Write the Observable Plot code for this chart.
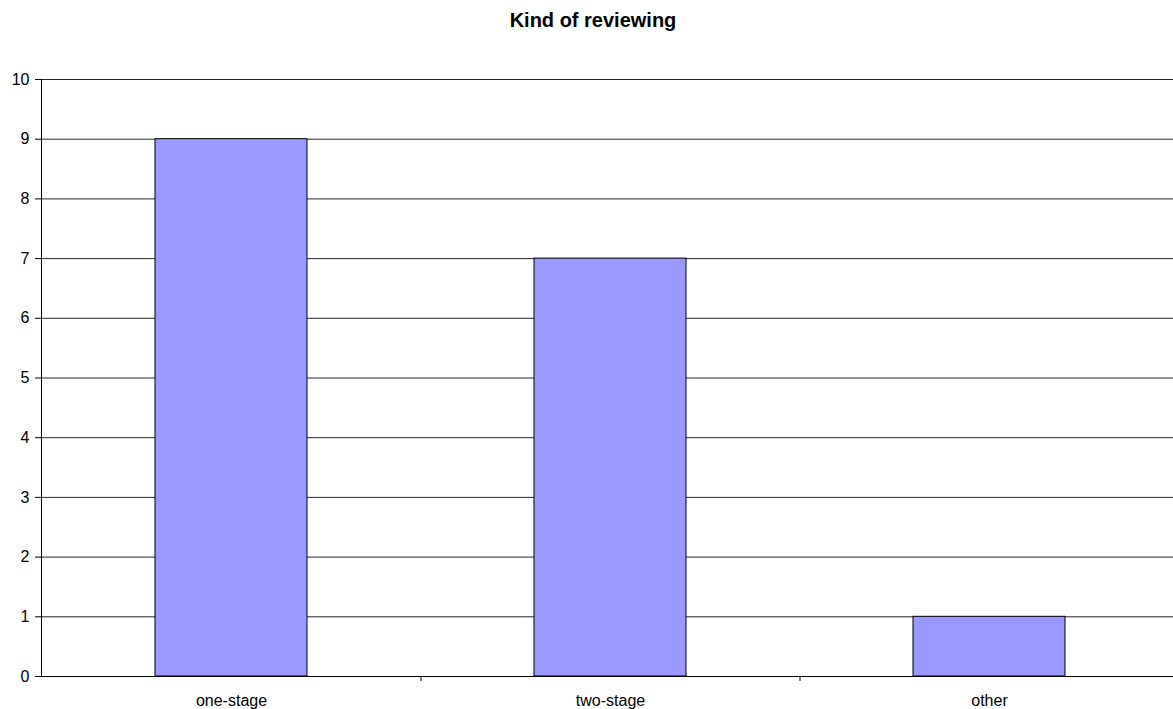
<!DOCTYPE html>
<html>
<head>
<meta charset="utf-8">
<script src="https://cdn.jsdelivr.net/npm/d3@7"></script>
<script src="https://cdn.jsdelivr.net/npm/@observablehq/plot@0.6"></script>
<style>
  html, body { margin: 0; padding: 0; background: #fff; }
  #title {
    height: 60px;
    box-sizing: border-box;
    padding-top: 9px;
    padding-left: 13px;
    text-align: center;
    font: bold 20px/23px "Liberation Sans", Arial, sans-serif;
    color: #000;
  }
  svg { display: block; }
</style>
</head>
<body>
<div id="title">Kind of reviewing</div>
<div id="chart"></div>
<script>
// Review types and how many responses named each one
const categories = ["one-stage", "two-stage", "other"];
const counts = [9, 7, 1];
const yTicks = [0, 1, 2, 3, 4, 5, 6, 7, 8, 9, 10];

const rows = categories.map((c, i) => ({category: c, count: counts[i]}));

const width = 1173;
const marginLeft = 41;
// the category bands run slightly past the right edge of the page
const xRange = [41, 1178];
const step = (xRange[1] - xRange[0]) / categories.length;

const chart = Plot.plot({
  width,
  height: 649,
  marginTop: 19,
  marginBottom: 33,
  marginLeft,
  marginRight: 0,
  style: {fontFamily: "'Liberation Sans', Arial, sans-serif", fontSize: "16px", color: "#000", background: "#fff"},
  x: {domain: categories, range: xRange, paddingInner: 0.6, paddingOuter: 0.3, label: null},
  y: {domain: [0, 10], label: null},
  marks: [
    // horizontal gridlines
    Plot.ruleY(yTicks, {stroke: "#000", strokeOpacity: 0.85}),
    // bars
    Plot.barY(rows, {x: "category", y: "count", fill: "#9999ff", stroke: "#000", strokeWidth: 1}),
    // axis lines
    Plot.frame({anchor: "left", stroke: "#000"}),
    Plot.frame({anchor: "bottom", stroke: "#000"}),
    // ticks between categories on the x axis
    Plot.ruleX(categories.slice(1), {x: d => d, dx: -step / 2, y1: 0, y2: 0, insetBottom: -5, stroke: "#000"}),
    Plot.axisY({ticks: yTicks, tickSize: 6, tickPadding: 6, tickFormat: d3.format("d"), fontSize: 16, label: null}),
    Plot.axisX({tickSize: 0, tickPadding: 18, fontSize: 16, label: null})
  ]
});

document.getElementById("chart").appendChild(chart);
</script>
</body>
</html>
